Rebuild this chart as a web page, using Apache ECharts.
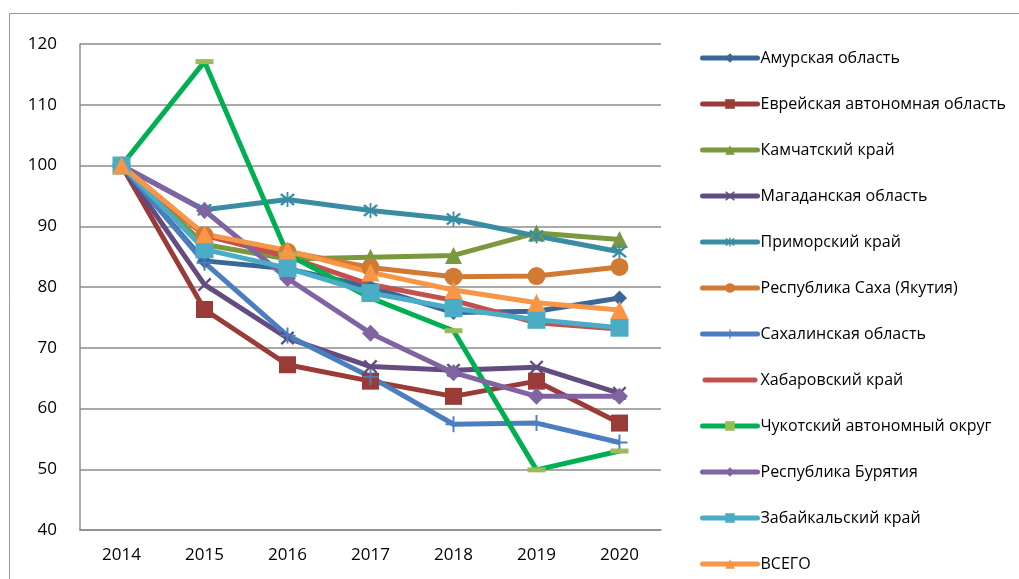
<!DOCTYPE html>
<html><head><meta charset="utf-8">
<script src="https://cdn.jsdelivr.net/npm/echarts@6/dist/echarts.min.js"></script>
<style>html,body{margin:0;padding:0;background:#fff}#c{width:1019px;height:579px}</style>
</head><body><div id="c"></div>
<script>
const years = ['2014','2015','2016','2017','2018','2019','2020'];
const names = ['Амурская область','Еврейская автономная область','Камчатский край','Магаданская область','Приморский край','Республика Саха (Якутия)','Сахалинская область','Хабаровский край','Чукотский автономный округ','Республика Бурятия','Забайкальский край','ВСЕГО'];
const amur = [100, 84.3, 83.0, 80.0, 75.8, 76.0, 78.2];
const evrei = [100, 76.3, 67.2, 64.5, 62.0, 64.5, 57.6];
const kamch = [100, 87.0, 84.6, 84.9, 85.2, 88.9, 87.8];
const magad = [100, 80.4, 71.6, 66.9, 66.3, 66.8, 62.5];
const primor = [100, 92.7, 94.4, 92.6, 91.2, 88.4, 85.8];
const sakha = [100, 88.5, 85.8, 83.2, 81.7, 81.8, 83.3];
const sakhalin = [100, 84.0, 72.0, 65.2, 57.4, 57.6, 54.4];
const khabar = [100, 88.5, 85.0, 80.4, 77.8, 74.1, 73.1];
const chukot = [100, 117.1, 85.4, 78.2, 72.8, 49.9, 53.0];
const buryat = [100, 92.6, 81.4, 72.4, 65.9, 62.0, 62.0];
const zabaik = [100, 86.2, 83.1, 79.0, 76.5, 74.6, 73.3];
const total = [100, 88.7, 86.0, 82.4, 79.5, 77.4, 76.2];
const yTicks = [40, 50, 60, 70, 80, 90, 100, 110, 120];

const X_PATH = 'path://M0,1.2L1.2,0L5,3.8L8.8,0L10,1.2L6.2,5L10,8.8L8.8,10L5,6.2L1.2,10L0,8.8L3.8,5Z';
const AST_PATH = 'path://M0,1.2L1.2,0L5,3.8L8.8,0L10,1.2L6.2,5L10,8.8L8.8,10L5,6.2L1.2,10L0,8.8L3.8,5Z M4.4,-1L5.6,-1L5.6,11L4.4,11Z';
const PLUS_PATH = 'path://M4.4,0L5.6,0L5.6,4.4L10,4.4L10,5.6L5.6,5.6L5.6,10L4.4,10L4.4,5.6L0,5.6L0,4.4L4.4,4.4Z';
const BAR_ICON = 'path://M2.5,0L52.5,0A2.5,2.5,0,0,1,52.5,5L2.5,5A2.5,2.5,0,0,1,2.5,0Z';

const datas = [amur, evrei, kamch, magad, primor, sakha, sakhalin, khabar, chukot, buryat, zabaik, total];
const colors = ['#3B6699','#9A3B37','#7A993F','#634C80','#3A8CA3','#D07A34','#4A7EC0','#C4504D','#00B050','#8064A2','#4BACC6','#F79646'];
const symbols = ['diamond','rect','triangle',X_PATH,AST_PATH,'circle',PLUS_PATH,'none','rect','diamond','rect','triangle'];
const sizes = [15,17,17,14,15,18,16,0,[18,5],17,18,18];

const series = names.map((n,i)=>({
  name:n, type:'line', data:datas[i],
  symbol:symbols[i], symbolSize:sizes[i], showSymbol: symbols[i]!=='none',
  lineStyle:{color:colors[i], width:5},
  itemStyle:{color: i===8 ? '#9BBB59' : colors[i]},
  animation:false
}));

const legendData = names.map((n,i)=> symbols[i]==='none' ? {name:n, icon:BAR_ICON, itemStyle:{color:colors[i]}} : n);

const chart = echarts.init(document.getElementById('c'));
chart.setOption({
  backgroundColor:'#fff',
  animation:false,
  color:colors,
  graphic:[{type:'rect', shape:{x:9.5,y:13.5,width:1100,height:700}, style:{fill:'none', stroke:'#999', lineWidth:1}, silent:true, z:-1}],
  grid:{left:80, right:358, top:44, bottom:49},
  xAxis:{type:'category', data:years, boundaryGap:true,
    axisLine:{lineStyle:{color:'#8c8c8c', width:1.5}}, axisTick:{show:false},
    axisLabel:{color:'#000', fontSize:17, fontFamily:'Open Sans', margin:17}},
  yAxis:{type:'value', min:40, max:120, interval:10,
    axisLine:{show:true, lineStyle:{color:'#8c8c8c', width:1.5}}, axisTick:{show:false},
    splitLine:{lineStyle:{color:'#8c8c8c', width:1.5}},
    axisLabel:{color:'#000', fontSize:17, fontFamily:'Open Sans', margin:23,
      formatter:v=>yTicks.includes(v)?String(v):''}},
  legend:{orient:'vertical', left:700, top:50, bottom:0, padding:0, itemWidth:55, itemHeight:12, itemGap:30,
    lineStyle:{width:5, cap:'round'},
    textStyle:{color:'#000', fontSize:16, fontFamily:'Open Sans', padding:[0,0,0,-2]},
    data:legendData},
  series:series
});
</script></body></html>
